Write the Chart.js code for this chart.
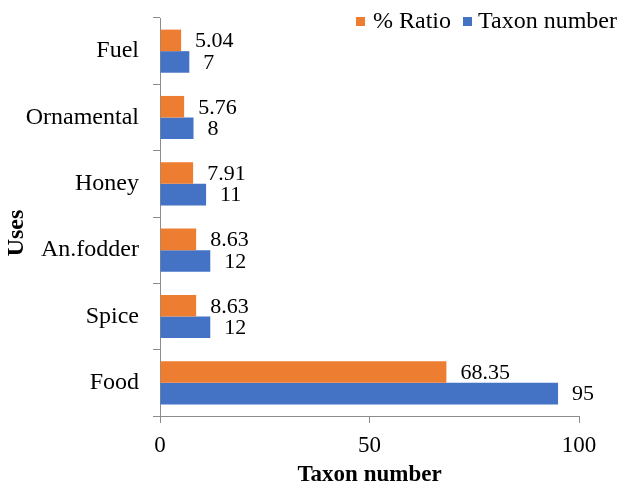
<!DOCTYPE html>
<html>
<head>
<meta charset="utf-8">
<title>Uses</title>
<script src="https://cdn.jsdelivr.net/npm/chart.js@4/dist/chart.umd.min.js"></script>
<style>
  html, body { margin: 0; padding: 0; background: #fff; }
  canvas { display: block; }
</style>
</head>
<body>
<canvas id="usesChart" width="619" height="483"></canvas>
<script>
// Uses of the taxa
const categories = ['Fuel', 'Ornamental', 'Honey', 'An.fodder', 'Spice', 'Food'];
const ratioValues = [5.04, 5.76, 7.91, 8.63, 8.63, 68.35];
const taxonValues = [7, 8, 11, 12, 12, 95];
const xTicks = [0, 50, 100];

const ORANGE = '#ED7D31';
const BLUE = '#4472C4';
const AXIS = '#8C8C8C';
const FONT = "'Liberation Serif', 'Times New Roman', serif";

// Value labels just right of each bar end
const barLabels = {
  id: 'barLabels',
  afterDatasetsDraw(chart) {
    const ctx = chart.ctx;
    ctx.save();
    ctx.font = `22px ${FONT}`;
    ctx.fillStyle = '#000';
    ctx.textAlign = 'left';
    ctx.textBaseline = 'middle';
    chart.data.datasets.forEach((ds, i) => {
      chart.getDatasetMeta(i).data.forEach((bar, j) => {
        ctx.fillText(String(ds.data[j]), bar.x + 14, bar.y + 1);
      });
    });
    ctx.restore();
  }
};

// Square legend in the top right corner, plus the rotated "Uses" title
const extras = {
  id: 'extras',
  afterDraw(chart) {
    const ctx = chart.ctx;
    ctx.save();
    ctx.font = `24px ${FONT}`;
    ctx.textBaseline = 'middle';
    ctx.textAlign = 'left';
    const boxes = [356, 463];
    const y = 21;
    chart.data.datasets.forEach((ds, i) => {
      const x = boxes[i];
      ctx.fillStyle = ds.backgroundColor;
      ctx.fillRect(x, y - 4, 9, 9);
      ctx.fillStyle = '#000';
      ctx.fillText(ds.label, x + (i === 0 ? 17 : 15), y + 1);
    });

    ctx.translate(17, 233);
    ctx.rotate(-Math.PI / 2);
    ctx.font = `bold 24px ${FONT}`;
    ctx.textAlign = 'center';
    ctx.fillText('Uses', 0, 0);
    ctx.restore();
  }
};

new Chart(document.getElementById('usesChart'), {
  type: 'bar',
  data: {
    labels: categories,
    datasets: [
      { label: '% Ratio', data: ratioValues, backgroundColor: ORANGE },
      { label: 'Taxon number', data: taxonValues, backgroundColor: BLUE }
    ]
  },
  options: {
    indexAxis: 'y',
    responsive: false,
    animation: false,
    layout: { padding: { top: 18, right: 40, left: 0, bottom: 0 } },
    datasets: { bar: { categoryPercentage: 0.65, barPercentage: 1.0 } },
    plugins: {
      legend: { display: false },
      tooltip: { enabled: false }
    },
    scales: {
      x: {
        min: 0,
        max: 100,
        afterFit(scale) { scale.height = 67; },
        afterBuildTicks(scale) { scale.ticks = xTicks.map(v => ({ value: v })); },
        border: { color: AXIS, width: 1 },
        grid: { drawOnChartArea: false, color: AXIS, tickLength: 7 },
        ticks: { color: '#000', padding: 9, font: { family: FONT, size: 23 } },
        title: {
          display: true,
          text: 'Taxon number',
          color: '#000',
          padding: { top: 0, bottom: -4 },
          font: { family: FONT, size: 23, weight: 'bold', lineHeight: 1 }
        }
      },
      y: {
        afterFit(scale) {
          scale.width = 160;
          scale.paddingTop = 0;
          scale.paddingBottom = 0;
        },
        border: { color: AXIS, width: 1 },
        grid: { drawOnChartArea: false, color: AXIS, tickLength: 7 },
        ticks: { color: '#000', padding: 14, font: { family: FONT, size: 24 } }
      }
    }
  },
  plugins: [barLabels, extras]
});
</script>
</body>
</html>
